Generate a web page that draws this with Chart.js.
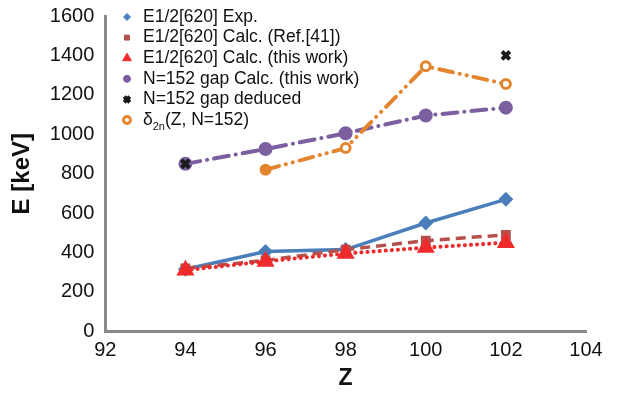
<!DOCTYPE html>
<html><head><meta charset="utf-8">
<script src="https://cdn.jsdelivr.net/npm/chart.js@4/dist/chart.umd.min.js"></script>
<style>html,body{margin:0;padding:0;background:#fff}#wrap{width:629px;height:394px}</style>
</head><body><div id="wrap"><canvas id="c" width="629" height="394"></canvas></div>
<script>
const zValues = [94, 96, 98, 100, 102];
const expE = [315, 405, 415, 550, 670];
const ref41E = [320, 360, 415, 460, 490];
const thisWorkE = [310, 355, 395, 425, 450];
const gapCalc = [850, 925, 1005, 1095, 1135];
const gapDeducedZ = [94, 102];
const gapDeduced = [850, 1400];
const delta2nZ = [96, 98, 100, 102];
const delta2n = [820, 930, 1345, 1255];
const seriesNames = ["E1/2[620] Exp.", "E1/2[620] Calc. (Ref.[41])", "E1/2[620] Calc. (this work)", "N=152 gap Calc. (this work)", "N=152 gap deduced", "δ2n(Z, N=152)"];

const pts = (xs, ys) => xs.map((x, i) => ({x: x, y: ys[i]}));
const FONT = '"Liberation Sans", Arial, sans-serif';

const datasets = [
  {label: seriesNames[0], data: pts(zValues, expE), borderColor: '#4a7ebb', backgroundColor: '#4a7ebb', borderWidth: 3.5, pointStyle: 'rectRot', pointRadius: 5, order: 6},
  {label: seriesNames[1], data: pts(zValues, ref41E), borderColor: '#b5504d', backgroundColor: '#b5504d', borderWidth: 3.5, borderDash: [10, 6], pointStyle: 'rect', pointRadius: 4.5, order: 5},
  {label: seriesNames[2], data: pts(zValues, thisWorkE), borderColor: '#ee2a2a', backgroundColor: '#ee2a2a', borderWidth: 4, borderDash: [0.1, 6], borderCapStyle: 'round', pointStyle: 'triangle', pointRadius: 6.5, order: 4},
  {label: seriesNames[3], data: pts(zValues, gapCalc), borderColor: '#7c5fa0', backgroundColor: '#7c5fa0', borderWidth: 4, borderDash: [15, 7, 0.1, 7], borderCapStyle: 'round', pointStyle: 'circle', pointRadius: 5, order: 3},
  {label: seriesNames[4], data: pts(gapDeducedZ, gapDeduced), showLine: false, borderColor: '#1a1a1a', backgroundColor: '#1a1a1a', pointStyle: 'crossRot', pointRadius: 5.5, pointBorderWidth: 4, order: 2},
  {label: seriesNames[5], data: pts(delta2nZ, delta2n), borderColor: '#e3852f', backgroundColor: '#ffffff', pointBackgroundColor: ['#e3852f', '#ffffff', '#ffffff', '#ffffff'], pointBorderColor: '#e3852f', borderWidth: 4, borderDash: [14, 7, 0.1, 7, 0.1, 7], borderCapStyle: 'round', pointStyle: 'circle', pointRadius: 4.5, pointBorderWidth: 3, order: 1}
];

const legendPlugin = {
  id: 'customLegend',
  afterDraw(chart) {
    const ctx = chart.ctx;
    const x0 = 127, tx = 143, y0 = 17, dy = 20.6;
    ctx.save();
    ctx.textBaseline = 'middle';
    ctx.textAlign = 'left';
    datasets.forEach((ds, i) => {
      const y = y0 + i * dy;
      const color = ds.pointBorderColor || ds.borderColor;
      ctx.fillStyle = ds.backgroundColor;
      ctx.strokeStyle = color;
      ctx.lineWidth = ds.pointBorderWidth || 1;
      Chart.helpers.drawPoint(ctx, {pointStyle: ds.pointStyle, radius: Math.max(3.5, ds.pointRadius - 1.5), borderWidth: ds.pointBorderWidth || 1}, x0, y);
      ctx.fillStyle = '#111';
      ctx.font = '17.5px ' + FONT;
      if (i === 5) {
        ctx.fillText('δ', tx, y);
        let w = ctx.measureText('δ').width;
        ctx.font = '11px ' + FONT;
        ctx.fillText('2n', tx + w, y + 7);
        let w2 = ctx.measureText('2n').width;
        ctx.font = '17.5px ' + FONT;
        ctx.fillText('(Z, N=152)', tx + w + w2, y);
      } else {
        ctx.fillText(ds.label, tx, y);
      }
    });
    ctx.restore();
  }
};

new Chart(document.getElementById('c'), {
  type: 'line',
  data: {datasets: datasets},
  options: {
    responsive: false,
    animation: false,
    layout: {padding: {left: 8, right: 43, top: 15, bottom: 2}},
    plugins: {legend: {display: false}, tooltip: {enabled: false}},
    scales: {
      x: {
        type: 'linear', min: 92, max: 104,
        ticks: {stepSize: 2, color: '#111', font: {family: FONT, size: 20, lineHeight: 1}, padding: 4, maxRotation: 0, callback: v => String(v)},
        grid: {display: false, drawOnChartArea: false, drawTicks: true, tickLength: 5, tickColor: '#888', tickWidth: 2.5},
        border: {color: '#888', width: 3},
        title: {display: true, text: 'Z', color: '#111', font: {family: FONT, size: 23, weight: 'bold'}, padding: {top: 0, bottom: 0}}
      },
      y: {
        min: 0, max: 1600,
        ticks: {stepSize: 200, color: '#111', font: {family: FONT, size: 20, lineHeight: 1}, padding: 6, callback: v => String(v)},
        grid: {display: false, drawOnChartArea: false, drawTicks: true, tickLength: 5, tickColor: '#888', tickWidth: 2.5},
        border: {color: '#888', width: 3},
        title: {display: true, text: 'E [keV]', color: '#111', font: {family: FONT, size: 24, weight: 'bold'}, padding: {top: 0, bottom: 7}}
      }
    }
  },
  plugins: [legendPlugin]
});
</script>
</body></html>
